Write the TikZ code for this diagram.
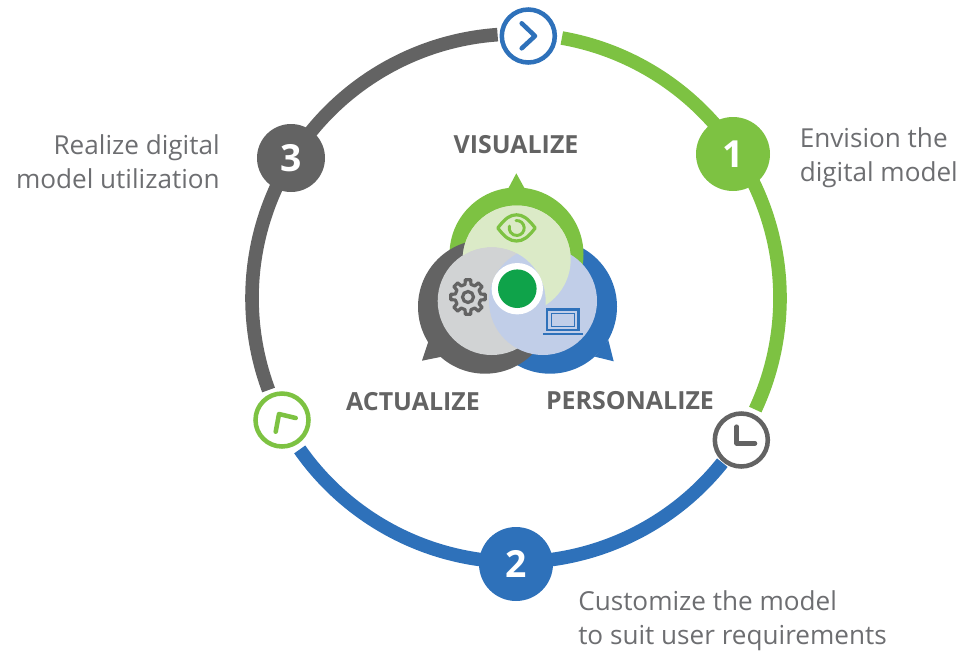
\documentclass[tikz,border=0pt]{standalone}
\usepackage{fontspec}
\setmainfont{Open Sans}
\definecolor{cgreen}{HTML}{7DC242}
\definecolor{cblue}{HTML}{2E71BA}
\definecolor{cgray}{HTML}{636363}
\definecolor{ctext}{HTML}{6D6E71}
\definecolor{lgreen}{HTML}{DBEAC7}
\definecolor{lgray}{HTML}{D1D3D4}
\definecolor{lblue}{HTML}{C1CEE8}
\definecolor{cdot}{HTML}{0FA34A}
\tikzset{
  ringarc/.style={line width=10.2pt,line cap=butt},
  numnode/.style={circle,minimum size=#1*0.75pt,inner sep=0pt,text=white,font=\fontsize{28}{28}\selectfont\bfseries},
  iconring/.style={circle,draw=#1,fill=white,line width=3.4pt,minimum size=53*0.75pt,inner sep=0pt},
  iconline/.style={line width=3.4pt,line cap=round,line join=round},
  lab/.style={text=ctext,font=\fontsize{19.6}{25.5}\selectfont,inner sep=0pt},
  head/.style={text=cgray,font=\fontsize{18.7}{20}\selectfont\bfseries,inner sep=0pt}
}
\begin{document}
\begin{tikzpicture}[x=0.75pt,y=-0.75pt]
\useasboundingbox (0,0) rectangle (979,651);
% ring
\begin{scope}[shift={(516,298)},x=0.75pt,y=0.75pt]
\draw[ringarc,cgreen] (80:264) arc[start angle=80,end angle=-25,radius=264];
\draw[ringarc,cblue] (-38.6:264) arc[start angle=-38.6,end angle=-145,radius=264];
\draw[ringarc,cgray] (200.4:264) arc[start angle=200.4,end angle=94,radius=264];
\end{scope}
% numbered circles
\node[numnode=74,fill=cgreen] (n1) at (733,154) {1};
\node[numnode=74,fill=cblue] (n2) at (516,564) {2};
\node[numnode=68,fill=cgray] (n3) at (291,158) {3};
% icon rings
\node[iconring=cblue] (top) at (528.3,36) {};
\draw[iconline,cblue] (521.7,23.3) -- (535,36) -- (521.7,48.3);
\node[iconring=cgreen] (left) at (282,420) {};
\draw[iconline,cgreen] (275.7,431.7) -- (279,414) -- (295.7,418);
\node[iconring=cgray] (clock) at (741.3,440) {};
\draw[iconline,cgray] (736.7,426.7) -- (736.7,443.3) -- (755,443.3);
% outer speech shapes
\fill[cblue] (550,306.7) circle[radius=67];
\fill[cblue] (613.7,361.3) -- (608.3,340) -- (595,356.7) -- cycle;
\fill[cgreen] (516.5,254.5) circle[radius=67];
\fill[cgreen] (516.3,173.3) -- (507.5,190) -- (525.5,190) -- cycle;
\fill[cgray] (485,306.7) circle[radius=67];
\fill[cgray] (422,360.7) -- (428.3,341.7) -- (441.7,356.7) -- cycle;
% inner discs
\fill[lgreen] (516.7,259.5) circle[radius=54];
\fill[lgray] (491.7,301) circle[radius=54];
\fill[lblue] (543,301) circle[radius=54];
\begin{scope}[even odd rule]
\clip (400,160) rectangle (640,380) (491.7,301) circle[radius=54];
\fill[lgreen] (516.7,259.5) circle[radius=54];
\end{scope}
\fill[white] (517.3,288.7) circle[radius=25.7];
\node[circle,fill=cdot,minimum size=38.6*0.75pt,inner sep=0pt] (dot) at (517.3,288.7) {};
% eye
\draw[line width=2.4pt,cgreen,line join=round] (497.8,228) .. controls (505,218.5) and (510,214.8) .. (516.5,214.8) .. controls (523,214.8) and (528,218.5) .. (535.2,228) .. controls (528,237.5) and (523,241) .. (516.5,241) .. controls (510,241) and (505,237.5) .. (497.8,228) -- cycle;
\begin{scope}[shift={(516.7,228)},x=0.75pt,y=0.75pt]
\draw[line width=2.2pt,cgreen,line cap=round] (95:7.5) arc[start angle=95,end angle=-195,radius=7.5];
\end{scope}
% gear
\begin{scope}[shift={(468,297)},x=0.75pt,y=0.75pt]
\draw[cgray,line width=2.4pt,line join=round]
 (-13:13) \foreach \a in {0,45,...,315} {
   -- (\a-9:17.5) -- (\a+9:17.5) -- (\a+13:13) -- (\a+32:13)
 } -- cycle;
\draw[cgray,line width=2.4pt] (0,0) circle[radius=5.5];
\end{scope}
% laptop
\draw[cblue,line width=1.8pt] (546.7,309.3) rectangle (578.3,330);
\draw[cblue,line width=0.7pt] (551,313) rectangle (574,326);
\fill[cblue] (542.7,332.5) rectangle (582.7,334.5);
% headings
\node[head] (v) at (516,145) {VISUALIZE};
\node[head] (a) at (413,402) {ACTUALIZE};
\node[head] (p) at (630,401) {PERSONALIZE};
% labels
\node[lab,anchor=west,align=left] (l1) at (799.5,157.5) {Envision the\\digital model};
\node[lab,anchor=east,align=right] (l3) at (220,161.5) {Realize digital\\model utilization};
\node[lab,anchor=west,align=left] (l2) at (578,621) {Customize the model\\to suit user requirements};
\end{tikzpicture}
\end{document}
